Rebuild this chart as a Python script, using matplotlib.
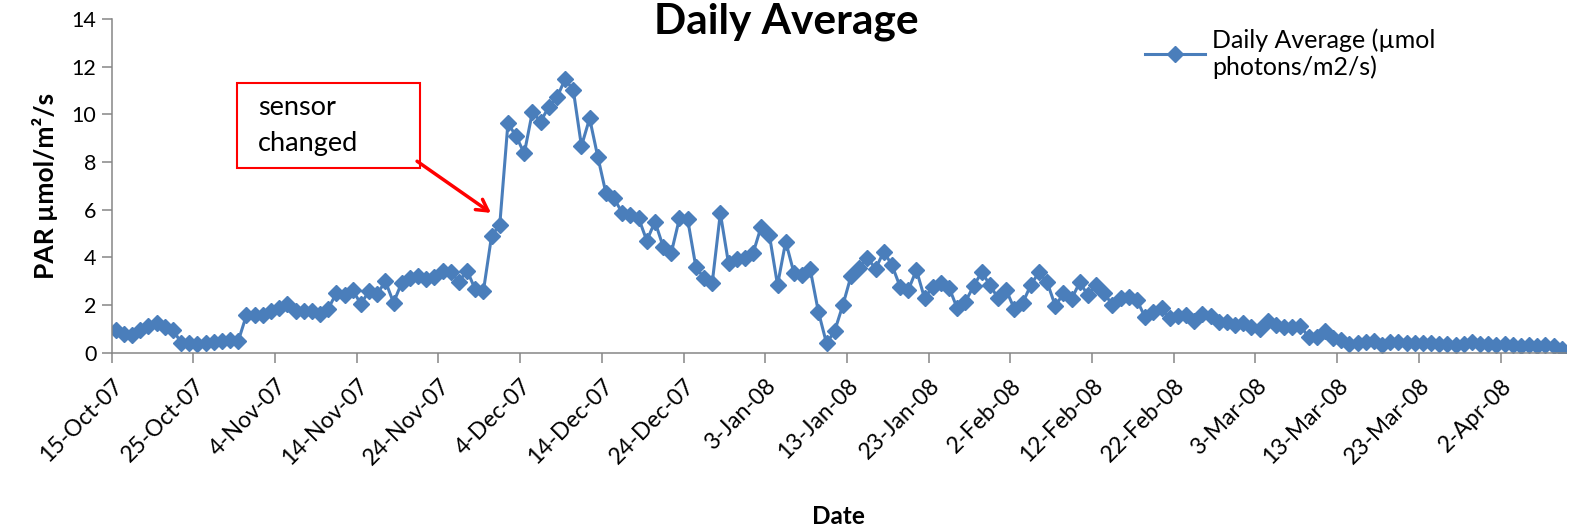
import matplotlib
matplotlib.use("Agg")
import matplotlib.pyplot as plt
import matplotlib.dates as mdates
from matplotlib.patches import Rectangle
import pandas as pd

plt.rcParams["font.family"] = ["Lato", "DejaVu Sans"]

# daily average PAR, one value per day from 15-Oct-07
start = "2007-10-15"
par = [
    0.95, 0.79, 0.75, 0.95, 1.10, 1.23, 1.07, 0.96, 0.42, 0.42,
    0.36, 0.41, 0.44, 0.50, 0.53, 0.50, 1.58, 1.58, 1.60, 1.74,
    1.88, 2.05, 1.77, 1.74, 1.77, 1.63, 1.84, 2.50, 2.40, 2.63,
    2.04, 2.59, 2.46, 3.00, 2.10, 2.94, 3.12, 3.22, 3.08, 3.19,
    3.44, 3.40, 2.98, 3.44, 2.66, 2.59, 4.90, 5.36, 9.62, 9.09,
    8.36, 10.11, 9.69, 10.32, 10.71, 11.48, 11.02, 8.67, 9.83, 8.22,
    6.69, 6.48, 5.85, 5.78, 5.64, 4.70, 5.50, 4.45, 4.20, 5.64,
    5.59, 3.61, 3.12, 2.91, 5.85, 3.75, 3.92, 3.96, 4.17, 5.29,
    4.94, 2.84, 4.66, 3.36, 3.26, 3.50, 1.72, 0.39, 0.92, 2.00,
    3.22, 3.55, 3.98, 3.52, 4.24, 3.68, 2.77, 2.63, 3.47, 2.28,
    2.77, 2.94, 2.73, 1.86, 2.14, 2.80, 3.38, 2.84, 2.28, 2.63,
    1.82, 2.08, 2.84, 3.38, 2.96, 1.96, 2.49, 2.26, 2.96, 2.40,
    2.86, 2.49, 2.00, 2.30, 2.35, 2.20, 1.48, 1.72, 1.86, 1.47,
    1.54, 1.60, 1.32, 1.63, 1.56, 1.28, 1.28, 1.18, 1.23, 1.07,
    0.98, 1.32, 1.18, 1.07, 1.07, 1.14, 0.65, 0.65, 0.90, 0.60,
    0.53, 0.36, 0.39, 0.43, 0.50, 0.31, 0.47, 0.45, 0.42, 0.42,
    0.39, 0.42, 0.35, 0.38, 0.32, 0.38, 0.44, 0.35, 0.38, 0.32,
    0.37, 0.34, 0.29, 0.33, 0.29, 0.33, 0.28, 0.15,
]
yticks = [0, 2, 4, 6, 8, 10, 12, 14]

days = pd.date_range(start, periods=len(par), freq="D")
x = days + pd.Timedelta(hours=12)              # Excel puts each day between tick marks
xticks = pd.date_range(start, days[-1], freq="10D")

blue = "#4A7EBB"
grey = "#868686"

fig = plt.figure(figsize=(15.73, 5.28), dpi=100)
ax = fig.add_axes([0.071, 0.332, 0.9245, 0.632])

ax.plot(x, par, color=blue, lw=2.2, marker="D", ms=8, mec=blue, mfc=blue,
        label="Daily Average (µmol\nphotons/m2/s)")

ax.set_xlim(days[0], days[-1] + pd.Timedelta(days=1))
ax.set_ylim(0, 14)
ax.set_yticks(yticks)
ax.set_xticks(xticks)
ax.xaxis.set_major_formatter(mdates.DateFormatter("%-d-%b-%y"))
for lab in ax.get_xticklabels():
    lab.set_rotation(45)
    lab.set_ha("right")
    lab.set_va("top")
    lab.set_rotation_mode("anchor")

ax.tick_params(axis="both", direction="out", length=7, width=1.1, color=grey, pad=4)
ax.tick_params(axis="y", labelsize=15.5)
ax.tick_params(axis="x", labelsize=16.5, pad=9)
for s in ("top", "right"):
    ax.spines[s].set_visible(False)
for s in ("left", "bottom"):
    ax.spines[s].set_color(grey)
    ax.spines[s].set_linewidth(1.1)

ax.set_ylabel("PAR µmol/m²/s", fontsize=19, fontweight="bold", labelpad=10)
fig.text(0.533, 0.0, "Date", fontsize=17.5, fontweight="bold", ha="center", va="bottom")
fig.text(0.5, 0.995, "Daily Average", fontsize=30.5, fontweight="bold", ha="center", va="top")

leg = ax.legend(loc="upper left", bbox_to_anchor=(1135 / 1573, 1 - 18 / 528), bbox_transform=fig.transFigure,
                frameon=False, fontsize=18, handlelength=2.4, handletextpad=0.3, borderaxespad=0)

# "sensor changed" callout
ax.add_patch(Rectangle((0.0862, 0.553), 0.1258, 0.255, transform=ax.transAxes, fill=False,
                       edgecolor="red", lw=1.5))
ax.text(0.1006, 0.68, "sensor\nchanged", transform=ax.transAxes, fontsize=19.5, va="center", ha="left",
        linespacing=1.55)
ax.annotate("", xy=(days[0] + pd.Timedelta(days=46.7), 5.8), xytext=(days[0] + pd.Timedelta(days=37.1), 8.1),
            arrowprops=dict(arrowstyle="->,head_length=0.8,head_width=0.45", color="red", lw=2.5))

fig.savefig("out.png", dpi=100)
